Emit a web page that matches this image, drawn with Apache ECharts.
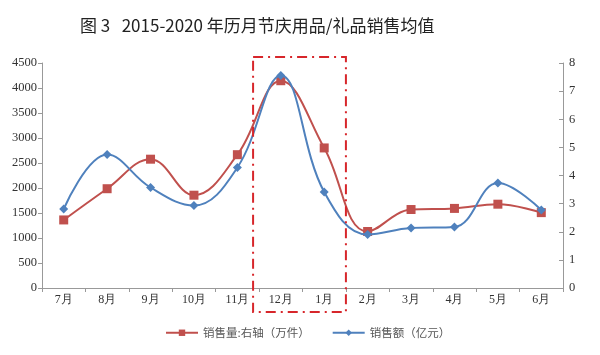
<!DOCTYPE html>
<html>
<head>
<meta charset="utf-8">
<script src="https://cdn.jsdelivr.net/npm/echarts@6/dist/echarts.min.js"></script>
<style>
    html, body { margin: 0; padding: 0; background: #fff; }
    #chart { width: 600px; height: 355px; }
</style>
</head>
<body>
<div id="chart"></div>
<script>
    // 月份
    const months = ['7月', '8月', '9月', '10月', '11月', '12月', '1月', '2月', '3月', '4月', '5月', '6月'];
    // 销售额（亿元）- 左轴
    const salesAmount = [1580, 2670, 2010, 1650, 2410, 4250, 1920, 1070, 1200, 1220, 2100, 1560];
    // 销售量（万件）- 右轴
    const salesVolume = [2.42, 3.53, 4.58, 3.30, 4.74, 7.37, 4.98, 2.01, 2.79, 2.83, 2.98, 2.68];
    const leftTicks = [0, 4500, 500];
    const rightTicks = [0, 8, 1];

    const serif = '"Liberation Serif", "DejaVu Serif", serif';
    const cjk = '"Noto Sans CJK SC", sans-serif';

    const myChart = echarts.init(document.getElementById('chart'));
    const option = {
        animation: false,
        title: {
            text: '图 3\u00a0\u00a0 2015-2020 年历月节庆用品/礼品销售均值',
            left: 75,
            top: 12,
            textStyle: { fontFamily: cjk, fontSize: 17, fontWeight: 'normal', color: '#222' }
        },
        grid: { left: 42, right: 37, top: 63, bottom: 67 },
        legend: {
            left: 160,
            top: 322,
            itemWidth: 32,
            itemHeight: 8,
            itemGap: 22,
            textStyle: { fontFamily: cjk, fontSize: 11.5, color: '#555' },
            data: ['销售量:右轴（万件）', '销售额（亿元）']
        },
        xAxis: {
            type: 'category',
            data: months,
            boundaryGap: true,
            axisLine: { lineStyle: { color: '#999' } },
            axisTick: { show: true, inside: false, length: 4, lineStyle: { color: '#999' } },
            axisLabel: { fontFamily: serif, fontSize: 12, color: '#333', margin: 6 }
        },
        yAxis: [
            {
                type: 'value',
                min: leftTicks[0], max: leftTicks[1], interval: leftTicks[2],
                axisLine: { show: true, lineStyle: { color: '#999' } },
                axisTick: { show: true, length: 4, lineStyle: { color: '#999' } },
                splitLine: { show: false },
                axisLabel: {
                    fontFamily: serif, fontSize: 12.5, color: '#333', margin: 5,
                    formatter: function (value) {
                        return String(value);
                    }
                }
            },
            {
                type: 'value',
                position: 'right',
                min: rightTicks[0], max: rightTicks[1], interval: rightTicks[2],
                axisLine: { show: true, lineStyle: { color: '#999' } },
                axisTick: { show: true, inside: true, length: 4, lineStyle: { color: '#999' } },
                splitLine: { show: false },
                axisLabel: { fontFamily: serif, fontSize: 12.5, color: '#333', margin: 6 }
            }
        ],
        series: [
            {
                name: '销售量:右轴（万件）',
                type: 'line',
                yAxisIndex: 1,
                smooth: 0.4,
                data: salesVolume,
                symbol: 'rect',
                symbolSize: 9,
                itemStyle: { color: '#C0504D' },
                lineStyle: { color: '#C0504D', width: 2 },
                z: 2
            },
            {
                name: '销售额（亿元）',
                type: 'line',
                yAxisIndex: 0,
                smooth: 0.4,
                data: salesAmount,
                symbol: 'diamond',
                symbolSize: 9,
                itemStyle: { color: '#4F81BD' },
                lineStyle: { color: '#4F81BD', width: 2 },
                z: 3
            }
        ]
    };
    myChart.setOption(option);

    // 红色点划线框：框住 12月、1月
    const p11 = myChart.convertToPixel({ xAxisIndex: 0 }, '11月');
    const p12 = myChart.convertToPixel({ xAxisIndex: 0 }, '12月');
    const p1 = myChart.convertToPixel({ xAxisIndex: 0 }, '1月');
    const p2 = myChart.convertToPixel({ xAxisIndex: 0 }, '2月');
    const boxLeft = (p11 + p12) / 2 - 6;
    const boxRight = (p1 + p2) / 2;
    myChart.setOption({
        graphic: [{
            type: 'rect',
            shape: { x: boxLeft, y: 57, width: boxRight - boxLeft, height: 255 },
            style: {
                fill: 'none',
                stroke: '#D7262B',
                lineWidth: 2,
                lineDash: [10, 5, 2, 5]
            },
            z: 10
        }]
    });
</script>
</body>
</html>
